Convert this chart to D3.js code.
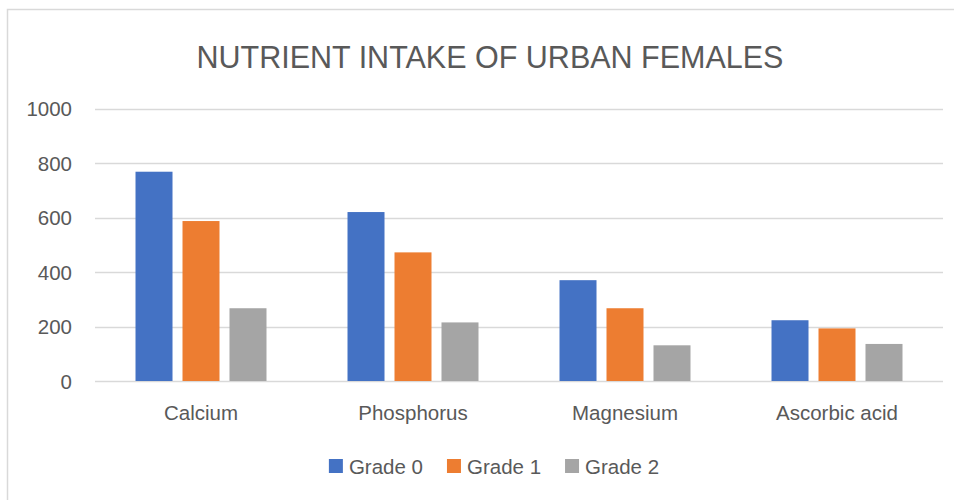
<!DOCTYPE html>
<html>
<head>
<meta charset="utf-8">
<script src="https://cdn.jsdelivr.net/npm/d3@7/dist/d3.min.js"></script>
<style>
  html, body { margin: 0; padding: 0; background: #fff; }
  svg { display: block; }
  text { font-family: "Liberation Sans", Arial, sans-serif; fill: #595959; }
</style>
</head>
<body>
<svg id="chart" width="954" height="500"></svg>
<script>
const title = "NUTRIENT INTAKE OF URBAN FEMALES";
const categories = ["Calcium", "Phosphorus", "Magnesium", "Ascorbic acid"];
const seriesNames = ["Grade 0", "Grade 1", "Grade 2"];
const grade0 = [768, 620, 370, 223];
const grade1 = [587, 472, 267, 193];
const grade2 = [267, 215, 131, 136];
const yTicks = [0, 200, 400, 600, 800, 1000];
const colors = ["#4472C4", "#ED7D31", "#A5A5A5"];

(function () {
const seriesValues = [grade0, grade1, grade2];
const svg = d3.select("#chart");

// outer border
svg.append("rect").attr("x", 7.5).attr("y", 9.5).attr("width", 970).attr("height", 520)
  .attr("fill", "none").attr("stroke", "#d9d9d9").attr("stroke-width", 1.5);

const plotLeft = 95, plotRight = 943, plotTop = 108.5, plotBottom = 381;
const y = d3.scaleLinear().domain([0, 1000]).range([plotBottom, plotTop]);
const x0 = d3.scaleBand().domain(categories).range([plotLeft, plotRight]).padding(0);
const x1 = d3.scaleBand().domain(seriesNames).range([0, x0.bandwidth()])
  .paddingInner(0.2128).paddingOuter(0.862);

// gridlines
svg.append("g").selectAll("line").data(yTicks).join("line")
  .attr("x1", plotLeft).attr("x2", plotRight)
  .attr("y1", d => Math.round(y(d)) + 0.5).attr("y2", d => Math.round(y(d)) + 0.5)
  .attr("stroke", "#d9d9d9").attr("stroke-width", 1.3);

// y tick labels
svg.append("g").selectAll("text").data(yTicks).join("text")
  .attr("x", 72).attr("y", d => y(d))
  .attr("text-anchor", "end").attr("dominant-baseline", "central")
  .style("font-size", "20.5px").text(d => d);

// bars
const groups = svg.append("g").selectAll("g").data(categories).join("g")
  .attr("transform", c => `translate(${x0(c)},0)`);
groups.selectAll("rect").data((c, i) => seriesNames.map((s, j) => ({s, v: seriesValues[j][i], j})))
  .join("rect")
  .attr("x", d => x1(d.s)).attr("width", x1.bandwidth())
  .attr("y", d => y(d.v)).attr("height", d => y(0) - y(d.v))
  .attr("fill", d => colors[d.j]);

// category labels
svg.append("g").selectAll("text").data(categories).join("text")
  .attr("x", c => x0(c) + x0.bandwidth() / 2).attr("y", 412)
  .attr("text-anchor", "middle").attr("dominant-baseline", "central")
  .style("font-size", "20.5px").text(c => c);

// title
svg.append("text").attr("x", 490).attr("y", 68).attr("text-anchor", "middle")
  .style("font-size", "30.5px").text(title);

// legend
const lg = svg.append("g");
const items = lg.selectAll("g").data(seriesNames).join("g");
items.append("rect").attr("width", 14).attr("height", 14).attr("y", -7)
  .attr("fill", (d, i) => colors[i]);
items.append("text").attr("x", 20).attr("y", 0).attr("dominant-baseline", "central")
  .style("font-size", "20.5px").text(d => d);
const xs = []; let cur = 0;
items.each(function () {
  const w = 20 + this.querySelector("text").getComputedTextLength();
  xs.push(cur); cur += w + 24;
});
const total = cur - 24;
const startX = 494 - total / 2;
items.attr("transform", (d, i) => `translate(${startX + xs[i]},466)`);
})();
</script>
</body>
</html>
